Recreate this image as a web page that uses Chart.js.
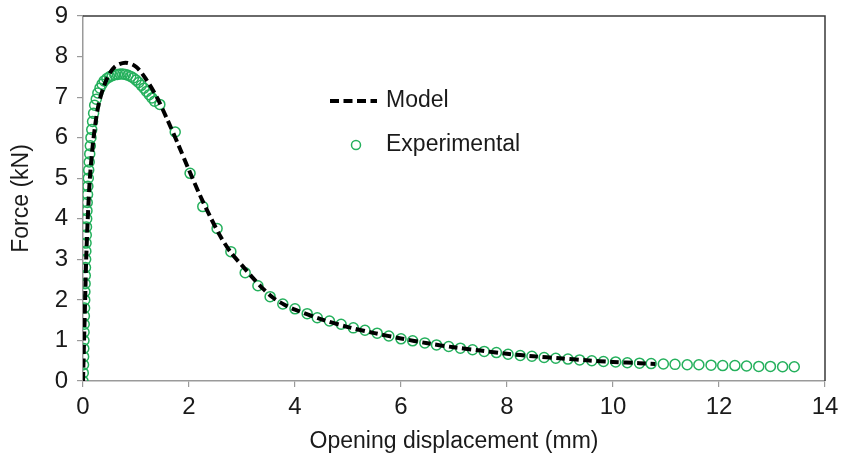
<!DOCTYPE html>
<html>
<head>
<meta charset="utf-8">
<script src="https://cdn.jsdelivr.net/npm/chart.js@4.4.1/dist/chart.umd.min.js"></script>
<style>
  html, body { margin: 0; padding: 0; background: #ffffff; }
  #wrap { width: 867px; height: 463px; }
</style>
</head>
<body>
<div id="wrap"><canvas id="forceChart"></canvas></div>
<script>
// Model curve (opening displacement mm, force kN)
const modelX = [0, 0.02, 0.04, 0.06, 0.09, 0.13, 0.2, 0.3, 0.45, 0.6, 0.8, 1.0, 1.2, 1.4, 1.6, 1.8, 2.0, 2.2, 2.4, 2.6, 2.8, 3.0, 3.2, 3.4, 3.6, 3.8, 4.0, 4.5, 5.0, 5.5, 6.0, 6.5, 7.0, 7.5, 8.0, 8.5, 9.0, 9.5, 10.0, 10.5, 10.8];
const modelY = [0, 1.0, 2.0, 3.0, 4.0, 5.0, 6.0, 6.85, 7.45, 7.75, 7.85, 7.75, 7.42, 6.98, 6.42, 5.82, 5.2, 4.6, 4.05, 3.55, 3.15, 2.85, 2.55, 2.27, 2.04, 1.88, 1.76, 1.52, 1.33, 1.18, 1.05, 0.93, 0.83, 0.75, 0.67, 0.61, 0.56, 0.51, 0.47, 0.44, 0.42];

// Experimental points
const expX = [0, 0.005, 0.01, 0.012, 0.015, 0.018, 0.02, 0.023, 0.026, 0.03, 0.033, 0.036, 0.04, 0.043, 0.047, 0.05, 0.054, 0.058, 0.062, 0.066, 0.07, 0.075, 0.08, 0.086, 0.092, 0.1, 0.108, 0.117, 0.127, 0.138, 0.15, 0.165, 0.18, 0.2, 0.22, 0.25, 0.28, 0.32, 0.36, 0.4, 0.45, 0.5, 0.55, 0.6, 0.65, 0.7, 0.75, 0.8, 0.85, 0.9, 0.95, 1.0, 1.05, 1.1, 1.15, 1.2, 1.25, 1.3, 1.35,
  1.45, 1.74, 2.02, 2.26, 2.53, 2.79, 3.06, 3.3, 3.53, 3.77, 4.0, 4.23,
  4.42, 4.65, 4.87, 5.1, 5.32, 5.55, 5.77, 6.0, 6.22, 6.45, 6.67, 6.9, 7.12, 7.35, 7.57, 7.8, 8.02, 8.25, 8.47, 8.7, 8.92, 9.15, 9.37, 9.6, 9.82, 10.05, 10.27, 10.5, 10.72, 10.95, 11.17, 11.4, 11.62, 11.85, 12.07, 12.3, 12.52, 12.75, 12.97, 13.2, 13.42];
const expY = [0, 0.2, 0.4, 0.6, 0.8, 1.0, 1.2, 1.4, 1.6, 1.8, 2.0, 2.2, 2.4, 2.6, 2.8, 3.0, 3.2, 3.4, 3.6, 3.8, 4.0, 4.2, 4.4, 4.6, 4.8, 5.0, 5.2, 5.4, 5.6, 5.8, 6.0, 6.2, 6.4, 6.6, 6.8, 6.95, 7.1, 7.22, 7.32, 7.4, 7.46, 7.5, 7.53, 7.55, 7.56, 7.57, 7.57, 7.56, 7.54, 7.51, 7.47, 7.42, 7.36, 7.29, 7.22, 7.14, 7.06, 6.98, 6.9,
  6.82, 6.14, 5.12, 4.3, 3.76, 3.19, 2.67, 2.35, 2.08, 1.9, 1.78, 1.66,
  1.56, 1.48, 1.4, 1.31, 1.25, 1.18, 1.11, 1.04, 0.99, 0.94, 0.89, 0.85, 0.81, 0.77, 0.73, 0.7, 0.66, 0.63, 0.61, 0.58, 0.56, 0.54, 0.52, 0.5, 0.48, 0.47, 0.45, 0.44, 0.43, 0.42, 0.41, 0.4, 0.4, 0.39, 0.38, 0.38, 0.37, 0.36, 0.36, 0.35, 0.35];

const xTicks = [0, 2, 4, 6, 8, 10, 12, 14];
const yTicks = [0, 1, 2, 3, 4, 5, 6, 7, 8, 9];

const GREEN = "#24b05c";
const AXIS_GREY = "#9a9a9a";
const TICK_FONT = "\"Liberation Sans Narrow\", \"Arial Narrow\", Arial, sans-serif";
const TITLE_FONT = "\"Liberation Sans\", Arial, sans-serif";

// frame on top/right + in-plot legend
const framePlugin = {
  id: "frameAndLegend",
  afterDatasetsDraw(chart) {
    const { ctx, chartArea: a } = chart;
    ctx.save();
    ctx.strokeStyle = "#3a3a3a";
    ctx.lineWidth = 1.5;
    ctx.beginPath();
    ctx.moveTo(a.left, a.top);
    ctx.lineTo(a.right, a.top);
    ctx.lineTo(a.right, a.bottom);
    ctx.stroke();

    const model = chart.data.datasets[0];
    const exp = chart.data.datasets[1];
    const lx = a.left + 247;
    const y1 = a.top + 85;
    const y2 = a.top + 129;
    ctx.strokeStyle = "#000000";
    ctx.lineWidth = 4;
    ctx.setLineDash([9, 4.5]);
    ctx.beginPath();
    ctx.moveTo(lx, y1);
    ctx.lineTo(lx + 47, y1);
    ctx.stroke();
    ctx.setLineDash([]);
    ctx.strokeStyle = GREEN;
    ctx.lineWidth = 1.5;
    ctx.beginPath();
    ctx.arc(lx + 26, y2, 4.5, 0, Math.PI * 2);
    ctx.stroke();

    ctx.fillStyle = "#1a1a1a";
    ctx.font = "23px " + TITLE_FONT;
    ctx.textBaseline = "middle";
    ctx.textAlign = "left";
    ctx.fillText(model.label, lx + 56, y1);
    ctx.fillText(exp.label, lx + 56, y2);
    ctx.restore();
  }
};

new Chart(document.getElementById("forceChart"), {
  type: "scatter",
  data: {
    datasets: [
      {
        type: "line",
        label: "Model",
        data: modelX.map((x, i) => ({ x, y: modelY[i] })),
        borderColor: "#000000",
        borderWidth: 4,
        borderDash: [9, 4.5],
        pointRadius: 0,
        fill: false,
        tension: 0.3,
        order: 0
      },
      {
        label: "Experimental",
        data: expX.map((x, i) => ({ x, y: expY[i] })),
        pointStyle: "circle",
        pointRadius: 5,
        pointBorderWidth: 1.5,
        pointBorderColor: GREEN,
        pointBackgroundColor: "rgba(255,255,255,0)",
        showLine: false,
        order: 1
      }
    ]
  },
  options: {
    responsive: true,
    maintainAspectRatio: false,
    animation: false,
    layout: { padding: { left: 0, right: 42, top: 16, bottom: 0 } },
    plugins: {
      legend: { display: false },
      tooltip: { enabled: false }
    },
    scales: {
      x: {
        type: "linear",
        min: 0,
        max: 14,
        afterFit: (s) => { s.height = 82; },
        afterBuildTicks: (s) => { s.ticks = xTicks.map((v) => ({ value: v })); },
        border: { display: true, color: AXIS_GREY, width: 1.5 },
        grid: { drawOnChartArea: false, drawTicks: true, tickLength: 6, color: AXIS_GREY, lineWidth: 1.2 },
        ticks: {
          color: "#1a1a1a",
          padding: 8,
          maxRotation: 0,
          font: { family: TICK_FONT, size: 24, lineHeight: 1 }
        },
        title: {
          display: true,
          text: "Opening displacement (mm)",
          color: "#1a1a1a",
          padding: { top: 0, bottom: 8 },
          font: { family: TITLE_FONT, size: 23 }
        }
      },
      y: {
        type: "linear",
        min: 0,
        max: 9,
        afterFit: (s) => { s.width = 83; },
        afterBuildTicks: (s) => { s.ticks = yTicks.map((v) => ({ value: v })); },
        border: { display: true, color: AXIS_GREY, width: 1.5 },
        grid: { drawOnChartArea: false, drawTicks: true, tickLength: 6, color: AXIS_GREY, lineWidth: 1.2 },
        ticks: {
          color: "#1a1a1a",
          padding: 9,
          font: { family: TICK_FONT, size: 24, lineHeight: 0.4 }
        },
        title: {
          display: true,
          text: "Force (kN)",
          color: "#1a1a1a",
          padding: { top: 8, bottom: 0 },
          font: { family: TITLE_FONT, size: 23 }
        }
      }
    }
  },
  plugins: [framePlugin]
});
</script>
</body>
</html>
